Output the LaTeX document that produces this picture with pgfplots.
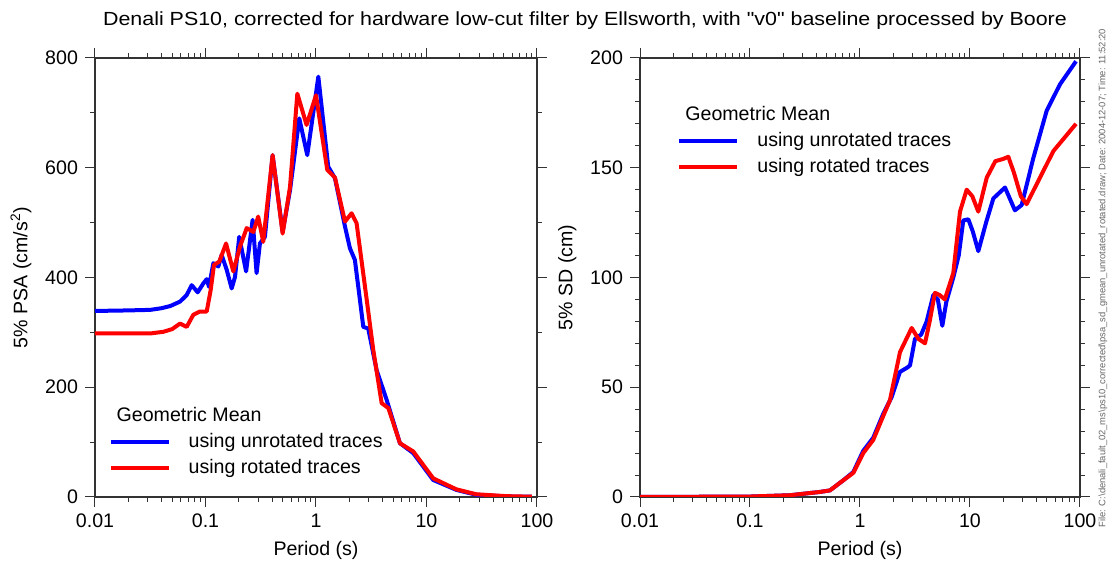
\documentclass[border=0pt]{standalone}
\usepackage{pgfplots}
\pgfplotsset{compat=1.18}
\usepackage{pgfplotstable}
\usepackage{fontspec}
\setmainfont{Liberation Sans}
\newfontfamily\plainsans{Liberation Sans}

\pgfplotstableread{
T v
0.01 339
0.02 340
0.0316 341
0.04 344
0.048 348
0.0588 356
0.0676 368
0.075 386
0.085 373
0.0955 389
0.1026 397
0.1076 383
0.1178 426
0.1306 420
0.140 441
0.1556 414
0.1726 380
0.185 401
0.202 474
0.233 411
0.267 505
0.290 408
0.311 462
0.345 474
0.405 623
0.499 483
0.582 559
0.706 690
0.834 623
1.05 766
1.29 602
1.485 581
1.83 493
2.03 453
2.25 432
2.68 310
2.97 307
3.54 231
4.36 177
5.75 98
7.59 80
11.5 31
18.6 13
28.2 4
53 1
90 0.5
}\psablue

\pgfplotstableread{
T v
0.01 298
0.02 298
0.0316 298
0.0415 301
0.05 306
0.0588 316
0.0676 310
0.0776 332
0.089 338
0.1026 338
0.1114 377
0.1194 423
0.1333 429
0.1535 462
0.1786 411
0.205 456
0.236 490
0.271 483
0.30 511
0.333 465
0.405 623
0.499 480
0.582 565
0.678 735
0.822 678
1.0 732
1.265 596
1.485 582
1.83 502
2.10 517
2.33 499
2.88 359
3.30 268
3.93 171
4.52 162
5.75 98
7.59 83
11.5 34
18.6 14
28.2 5
53 1.5
90 0.5
}\psared

\pgfplotstableread{
T v
0.01 0
0.1 0.2
0.231 0.8
0.433 2.3
0.533 3
0.705 7.6
0.87 11.4
1.07 21
1.32 27
1.63 38
1.94 45.5
2.31 57
2.7 59
2.85 60
3.16 72
3.6 74
4.04 80
4.64 92
5.1 90
5.6 78
6.1 89
7.05 100
7.9 110
8.69 126
9.66 126.5
10.6 121
11.9 112
14 125
16.3 136
20.8 141
25.6 130.6
29.5 133
37.7 154.5
49.8 176
65.8 188
92 198.5
}\sdblue

\pgfplotstableread{
T v
0.01 0
0.1 0.2
0.231 0.8
0.433 2.3
0.533 3
0.705 7.6
0.87 11
1.07 20
1.32 26
1.63 37
1.87 44
2.31 66
2.95 77
3.4 72
3.9 70
4.3 80
4.8 93
5.3 92
5.9 90
7.05 102
8.11 130
9.33 140
10.5 137
11.9 130
14.2 145.5
17 153
20 154
22.3 155
25 148
29 137
32.7 133.4
43.3 145.5
57.3 157.6
92 170
}\sdred

\begin{document}
\begin{tikzpicture}[x=1pt,y=1pt]
\path[use as bounding box] (0,0) rectangle (555,282.5);

\begin{axis}[
  scale only axis,
  xmode=log,
  xmin=0.01, xmax=100,
  log ticks with fixed point,
  tick align=outside,
  major tick length=5pt,
  minor tick length=2.5pt,
  axis line style={line width=0.6pt, black!80},
  every tick/.style={line width=0.5pt, black!80},
  tick label style={font=\fontsize{9.8}{11}\selectfont},
  label style={font=\fontsize{9.8}{11}\selectfont},
  /pgf/number format/assume math mode=true,
  xlabel={Period (s)},
  legend cell align=left,
  legend style={draw=none, fill=none, font=\fontsize{9.8}{12.5}\selectfont,
    row sep=0.5pt, inner sep=0pt, column sep=7pt,
    at={(0.03,0.215)}, anchor=north west},
  legend image code/.code={\draw[#1, line width=2pt] (0pt,0pt) -- (29pt,0pt);},
  at={(47.5pt,34pt)}, anchor=south west,
  width=221pt, height=219.5pt,
  ymin=0, ymax=800,
  ytick={0,200,400,600,800},
  minor y tick num=1,
  ylabel={5\% PSA (cm/s\textsuperscript{2})},
]
\addlegendimage{empty legend}
\addlegendentry{\hspace*{-36pt}Geometric Mean}
\addplot[blue, line width=2pt, line join=round] table[x=T,y=v] {\psablue};
\addlegendentry{using unrotated traces}
\addplot[red, line width=2pt, line join=round] table[x=T,y=v] {\psared};
\addlegendentry{using rotated traces}
\end{axis}

\begin{axis}[
  scale only axis,
  xmode=log,
  xmin=0.01, xmax=100,
  log ticks with fixed point,
  tick align=outside,
  major tick length=5pt,
  minor tick length=2.5pt,
  axis line style={line width=0.6pt, black!80},
  every tick/.style={line width=0.5pt, black!80},
  tick label style={font=\fontsize{9.8}{11}\selectfont},
  label style={font=\fontsize{9.8}{11}\selectfont},
  /pgf/number format/assume math mode=true,
  xlabel={Period (s)},
  legend cell align=left,
  legend style={draw=none, fill=none, font=\fontsize{9.8}{12.5}\selectfont,
    row sep=0.5pt, inner sep=0pt, column sep=7pt,
    at={(0.084,0.9)}, anchor=north west},
  legend image code/.code={\draw[#1, line width=2pt] (0pt,0pt) -- (29pt,0pt);},
  at={(320pt,34pt)}, anchor=south west,
  width=220pt, height=219.5pt,
  ymin=0, ymax=200,
  ytick={0,50,100,150,200},
  minor y tick num=4,
  ylabel={5\% SD (cm)},
]
\addlegendimage{empty legend}
\addlegendentry{\hspace*{-36pt}Geometric Mean}
\addplot[blue, line width=2pt, line join=round] table[x=T,y=v] {\sdblue};
\addlegendentry{using unrotated traces}
\addplot[red, line width=2pt, line join=round] table[x=T,y=v] {\sdred};
\addlegendentry{using rotated traces}
\end{axis}

\node[font=\plainsans\fontsize{9.5}{11}\selectfont, anchor=center, xscale=1.127] at (292.5,272) {Denali PS10, corrected for hardware low-cut filter by Ellsworth, with "v0" baseline processed by Boore};

\node[font=\fontsize{4.7}{5}\selectfont, text=black!60, rotate=90, anchor=center] at (551.5,143.5) {File: C:\textbackslash denali\_fault\_02\_ms\textbackslash ps10\_corrected\textbackslash psa\_sd\_gmean\_unrotated\_rotated.draw; Date: 2004-12-07; Time: 11:52:20};
\end{tikzpicture}
\end{document}
